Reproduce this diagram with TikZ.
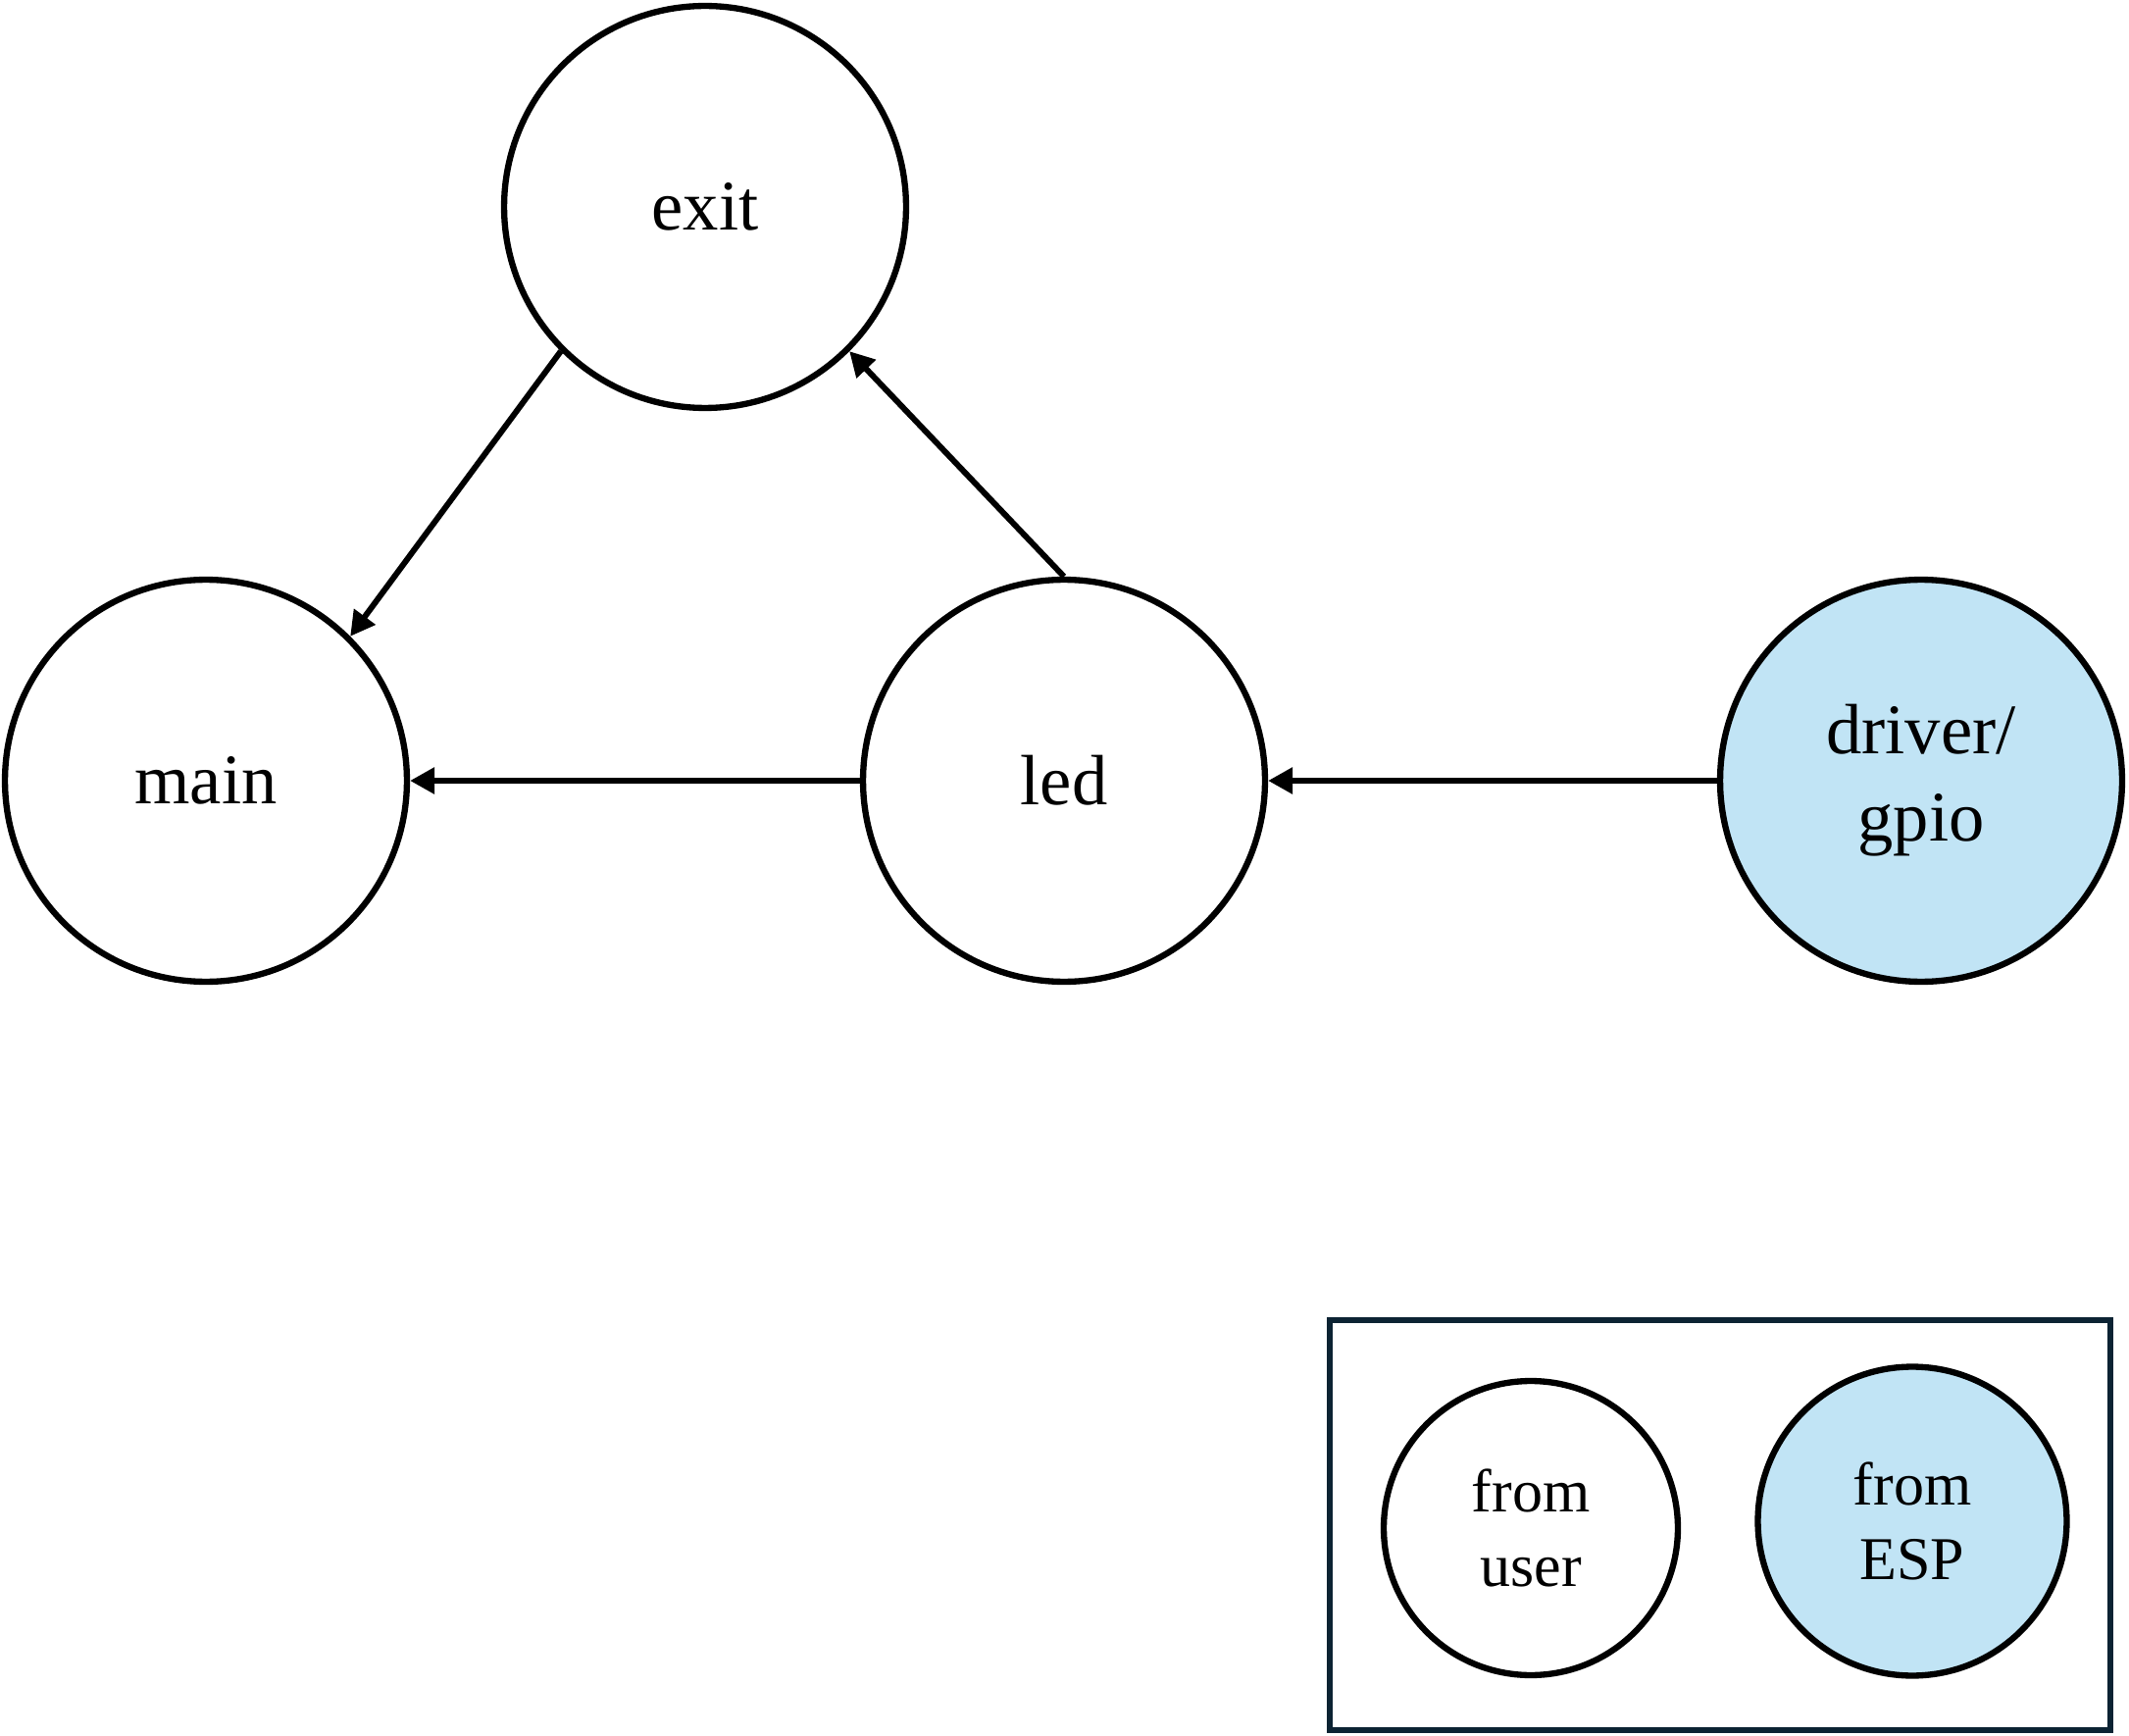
\documentclass[tikz,border=0pt]{standalone}
\usepackage{fontspec}
\setmainfont{Liberation Serif}
\usetikzlibrary{arrows.meta}
\definecolor{espblue}{RGB}{193,228,245}
\definecolor{legendline}{RGB}{12,35,51}
\begin{document}
\begin{tikzpicture}[x=0.02cm,y=-0.02cm,
  mod/.style={circle,draw=black,line width=3.6pt,minimum size=8.2cm,inner sep=0pt,align=center,font=\fontsize{41.3pt}{50.5pt}\selectfont},
  esp/.style={fill=espblue},
  dep/.style={-{Triangle[length=0.5cm,width=0.52cm]},line width=3.4pt},
  legcirc/.style={circle,draw=black,line width=3.6pt,inner sep=0pt,align=center,font=\fontsize{35.3pt}{43.5pt}\selectfont}]
\useasboundingbox (0,0) rectangle (2171,1770);
\node[mod] (exit) at (719,211) {exit};
\node[mod] (main) at (210,796) {main};
\node[mod] (led) at (1085,796) {led};
\node[mod,esp] (gpio) at (1959,796) {driver/\\gpio};
\draw[dep] (exit.225) -- (main.45);
\draw[dep] (led.north) -- (exit.315);
\draw[dep] (led.west) -- (main.east);
\draw[dep] (gpio.west) -- (led.east);
\draw[legendline,line width=3.6pt] (1356,1346) rectangle (2152,1764);
\node[legcirc,minimum size=6.0cm] (user) at (1561,1558) {from\\user};
\node[legcirc,esp,minimum size=6.3cm] (espc) at (1950,1551) {from\\ESP};
\end{tikzpicture}
\end{document}
